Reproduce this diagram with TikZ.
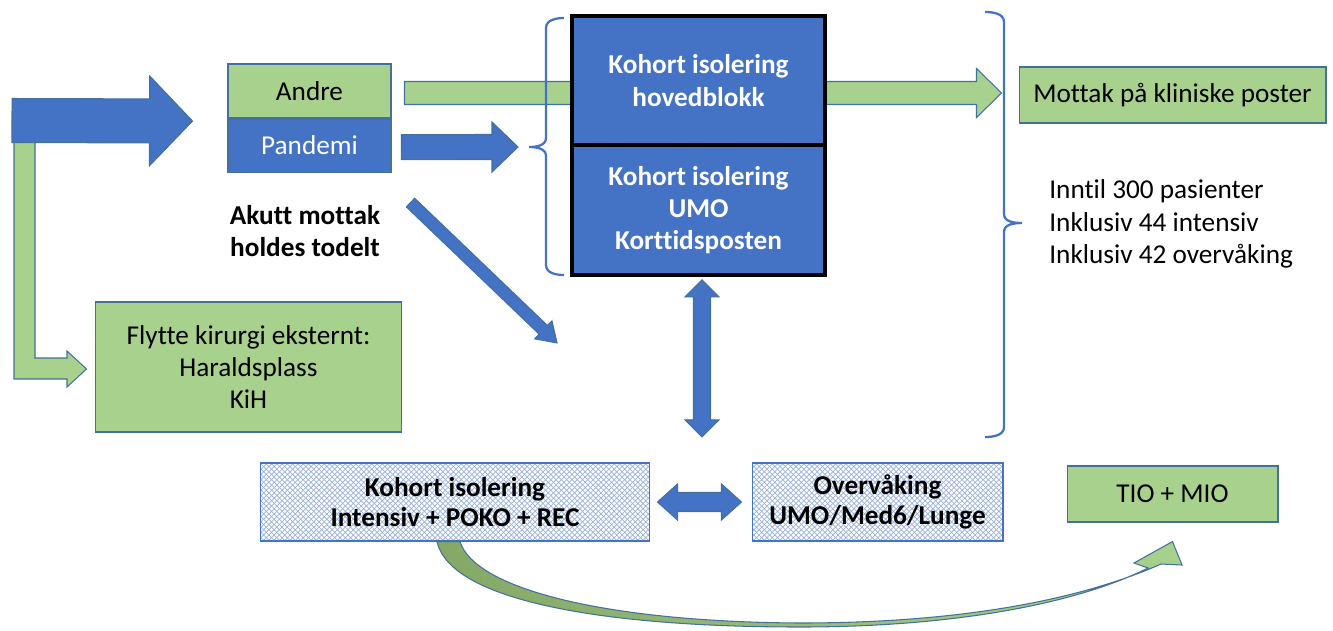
\documentclass[tikz,border=0pt]{standalone}
\usepackage{fontspec}
\setmainfont{Carlito}[Ligatures=NoCommon]
\usepackage{tikz}
\usetikzlibrary{positioning,calc,patterns,backgrounds}

\definecolor{offblue}{HTML}{4472C4}
\definecolor{offgreen}{HTML}{A9D18E}
\definecolor{edgeblue}{HTML}{41719C}
\definecolor{hatchblue}{HTML}{9AB3E0}
\definecolor{curvegreen}{HTML}{86A866}

\newcommand{\dfont}{\fontsize{15.5}{18.4}\selectfont}

% fat arrow: style, from, to, half shaft, half head, head length
\newcommand{\fatarrow}[6]{%
  \path ($(#3)!#6!(#2)$) coordinate (fa-head);
  \draw[#1] ($(#2)!#4!90:(#3)$) -- ($(fa-head)!#4!90:(#3)$) -- ($(fa-head)!#5!90:(#3)$) -- (#3)
    -- ($(fa-head)!#5!-90:(#3)$) -- ($(fa-head)!#4!-90:(#3)$) -- ($(#2)!#4!-90:(#3)$) -- cycle;}

% fat double arrow, same arguments
\newcommand{\fatdouble}[6]{%
  \path ($(#2)!#6!(#3)$) coordinate (fd-a) ($(#3)!#6!(#2)$) coordinate (fd-b);
  \draw[#1] (#2) -- ($(fd-a)!#5!90:(#3)$) -- ($(fd-a)!#4!90:(#3)$) -- ($(fd-b)!#4!-90:(#2)$)
    -- ($(fd-b)!#5!-90:(#2)$) -- (#3) -- ($(fd-b)!#5!90:(#2)$) -- ($(fd-b)!#4!90:(#2)$)
    -- ($(fd-a)!#4!-90:(#3)$) -- ($(fd-a)!#5!-90:(#3)$) -- cycle;}

\begin{document}
\begin{tikzpicture}[x=0.02cm, y=-0.02cm,
  every node/.style={font=\dfont, inner sep=0pt, align=center},
  greenbox/.style={draw=edgeblue, line width=0.6pt, fill=offgreen},
  bluebox/.style={draw=edgeblue, line width=0.6pt, fill=offblue, text=white},
  kohort/.style={draw=black, line width=2.4pt, outer sep=0pt, fill=offblue, text=white, font=\dfont\bfseries, minimum width=5.06cm},
  hatchbox/.style={draw=offblue, line width=0.6pt, preaction={fill=white}, pattern=crosshatch, pattern color=hatchblue, font=\fontsize{15.5}{17.2}\selectfont\bfseries, minimum height=1.56cm},
  brace/.style={draw=offblue, line width=1.3pt},
  fatgreen/.style={draw=edgeblue, line width=0.6pt, fill=offgreen},
  fatblue/.style={draw=edgeblue, line width=0.6pt, fill=offblue}]
\useasboundingbox (0,0) rectangle (1333,630);

% akutt mottak
\node[greenbox, minimum width=3.26cm, minimum height=1.08cm] (andre) at (309.5,91) {Andre};
\node[bluebox, minimum width=3.26cm, minimum height=1.06cm, below=0pt of andre] (pandemi) {Pandemi};
\node[font=\dfont\bfseries] (akutt) at (305,231) {Akutt mottak\\holdes todelt};
\node[greenbox, minimum width=6.14cm, minimum height=2.6cm] (flytte) at (248.5,367) {Flytte kirurgi eksternt:\\Haraldsplass\\KiH};

% kohort blokk
\node[kohort, minimum height=2.58cm] (hoved) at (698.5,80.5) {Kohort isolering\\hovedblokk};
\node[kohort, minimum height=2.6cm, below=0pt of hoved] (umo) {Kohort isolering\\UMO\\Korttidsposten};

% hoyre side
\node[greenbox, minimum width=6.14cm, minimum height=1.12cm] (mottak) at (1172.5,95) {Mottak på kliniske poster};
\node[anchor=west, align=left, font=\fontsize{15.5}{18.6}\selectfont] (kapasitet) at (1049,224) {Inntil 300 pasienter\\Inklusiv 44 intensiv\\Inklusiv 42 overvåking};

% nederst
\node[hatchbox, minimum width=7.8cm] (intensiv) at (455,502) {Kohort isolering\\Intensiv + POKO + REC};
\node[hatchbox, minimum width=5.02cm] (overv) at (877.5,502) {Overvåking\\UMO/Med6/Lunge};
\node[greenbox, minimum width=4.22cm, minimum height=1.12cm] (tio) at (1172.5,494) {TIO + MIO};

% klammer
\coordinate (lbrace) at (529,147);
\coordinate (rbrace) at (1022,223);
\draw[brace] (564,18) to[out=180,in=90] (546,28) -- (546,138) to[out=-90,in=0] (lbrace)
  to[out=0,in=90] (546,156) -- (546,265) to[out=-90,in=180] (564,275);
\draw[brace] (985,12) to[out=0,in=90] (1004,22) -- (1004,214) to[out=-90,in=180] (rbrace)
  to[out=180,in=90] (1004,232) -- (1004,427) to[out=-90,in=0] (985,437);

% piler
\begin{pgfonlayer}{background}
  \coordinate (a1) at ($(andre.east)+(13,2)$);
  \coordinate (a2) at ($(mottak.west)+(-17,-2)$);
  \fatarrow{fatgreen}{a1}{a2}{0.23cm}{0.49cm}{0.5cm}
\end{pgfonlayer}

\coordinate (elbowtip) at ($(flytte.west)+(-8,2)$);
\draw[fatgreen] (14,128) |- (67,379) -- (67,387) -- (elbowtip) -- (67,351) -- (67,358) -| (35,128) -- cycle;

\coordinate (inflow) at (12,120.5);
\coordinate (inflowtip) at ($(andre.south west)+(-35,2.5)$);
\fatarrow{fatblue}{inflow}{inflowtip}{0.44cm}{0.9cm}{0.86cm}

\coordinate (p1) at ($(pandemi.east)+(10,1.5)$);
\coordinate (p2) at ($(lbrace)+(-11,0)$);
\fatarrow{fatblue}{p1}{p2}{0.25cm}{0.5cm}{0.52cm}

\coordinate (d1) at ($(pandemi.south east)+(19,30)$);
\coordinate (d2) at ($(umo.south west)+(-15,68)$);
\fatarrow{fatblue}{d1}{d2}{0.12cm}{0.25cm}{0.38cm}

\coordinate (v1) at ($(umo.south)+(3.5,5)$);
\coordinate (v2) at ($(umo.south)+(3.5,162)$);
\fatdouble{fatblue}{v1}{v2}{0.17cm}{0.34cm}{0.34cm}

\coordinate (h1) at ($(intensiv.east)+(7,0)$);
\coordinate (h2) at ($(overv.west)+(-10,0)$);
\fatdouble{fatblue}{h1}{h2}{0.19cm}{0.36cm}{0.4cm}

% buet pil til TIO + MIO
\coordinate (c1) at ($(intensiv.south)+(-18,0)$);
\coordinate (c2) at ($(intensiv.south)+(5,0)$);
\coordinate (ctip) at ($(tio.south)+(0,19)$);
\shadedraw[left color=curvegreen, right color=offgreen, draw=edgeblue, line width=0.6pt]
  (c1) .. controls (450,600) and (600,627) .. (800,627) .. controls (960,627) and (1080,602) .. (1148,568)
  -- (1134,563) -- (ctip) -- (1182,565) -- (1161,564)
  .. controls (1080,600) and (960,623) .. (800,623) .. controls (610,622) and (475,590) .. (c2) -- cycle;
\end{tikzpicture}
\end{document}
